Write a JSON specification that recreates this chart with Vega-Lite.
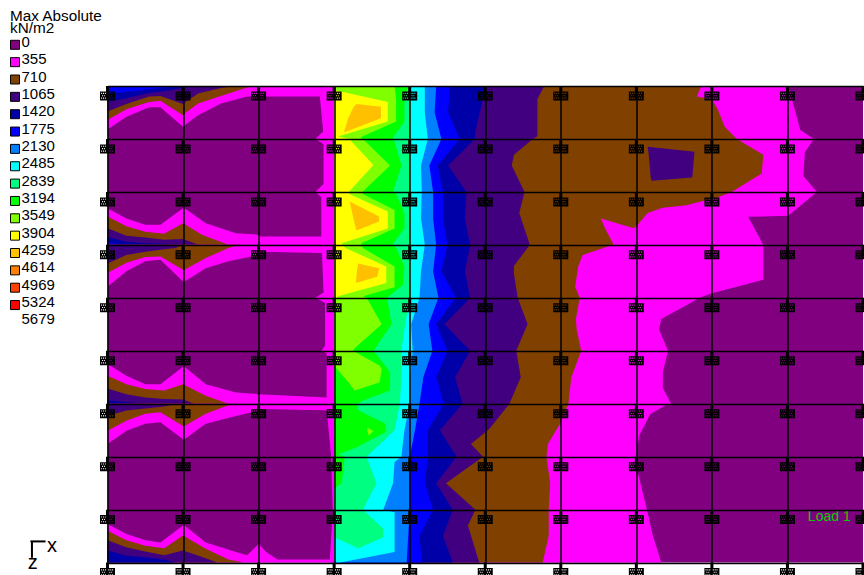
{"$schema":"https://vega.github.io/schema/vega-lite/v6.json","width":755.5,"height":476.6,"padding":{"left":107.5,"top":86,"right":1,"bottom":12.4},"autosize":{"type":"none"},"background":"white","view":{"stroke":null},
"config":{"font":"Liberation Sans"},
"layer":[
{"data":{"values":[
{"s":"base","l":"0","x":0,"x2":10,"y":0},{"s":"base","l":"0","x":0,"x2":10,"y":9},
{"s":"pkm","l":"355","x":3,"x2":9.01,"y":0},{"s":"pkm","l":"355","x":3,"x2":9.17,"y":0.83},{"s":"pkm","l":"355","x":3,"x2":9.35,"y":1},{"s":"pkm","l":"355","x":3,"x2":9.23,"y":1.25},{"s":"pkm","l":"355","x":3,"x2":9.21,"y":1.7},{"s":"pkm","l":"355","x":3,"x2":9.39,"y":2},{"s":"pkm","l":"355","x":3,"x2":9.01,"y":2.45},{"s":"pkm","l":"355","x":3,"x2":8.48,"y":2.47},{"s":"pkm","l":"355","x":3,"x2":8.68,"y":3},{"s":"pkm","l":"355","x":3,"x2":8.68,"y":3.66},{"s":"pkm","l":"355","x":3,"x2":7.99,"y":3.92},{"s":"pkm","l":"355","x":3,"x2":7.84,"y":4},{"s":"pkm","l":"355","x":3,"x2":7.33,"y":4.4},{"s":"pkm","l":"355","x":3,"x2":7.3,"y":4.6},{"s":"pkm","l":"355","x":3,"x2":7.42,"y":5},{"s":"pkm","l":"355","x":3,"x2":7.35,"y":5.4},{"s":"pkm","l":"355","x":3,"x2":7.35,"y":5.7},{"s":"pkm","l":"355","x":3,"x2":7.46,"y":6},{"s":"pkm","l":"355","x":3,"x2":7.4,"y":6.02},{"s":"pkm","l":"355","x":3,"x2":7.18,"y":6.2},{"s":"pkm","l":"355","x":3,"x2":7.04,"y":6.6},{"s":"pkm","l":"355","x":3,"x2":7,"y":6.95},{"s":"pkm","l":"355","x":3,"x2":7.02,"y":7.3},{"s":"pkm","l":"355","x":3,"x2":7.14,"y":8},{"s":"pkm","l":"355","x":3,"x2":7.22,"y":8.5},{"s":"pkm","l":"355","x":3,"x2":7.33,"y":9},
{"s":"pks","l":"355","x":2.81,"x2":3,"y":0},{"s":"pks","l":"355","x":2.81,"x2":3,"y":0.2},{"s":"pks","l":"355","x":2.855,"x2":3,"y":0.86},{"s":"pks","l":"355","x":2.75,"x2":3,"y":1},{"s":"pks","l":"355","x":2.86,"x2":3,"y":1.1},{"s":"pks","l":"355","x":2.86,"x2":3,"y":1.85},{"s":"pks","l":"355","x":2.75,"x2":3,"y":2},{"s":"pks","l":"355","x":2.83,"x2":3,"y":2.1},{"s":"pks","l":"355","x":2.83,"x2":3,"y":3},{"s":"pks","l":"355","x":2.84,"x2":3,"y":3.2},{"s":"pks","l":"355","x":2.86,"x2":3,"y":3.9},{"s":"pks","l":"355","x":2.75,"x2":3,"y":4},{"s":"pks","l":"355","x":2.88,"x2":3,"y":4.1},{"s":"pks","l":"355","x":2.88,"x2":3,"y":4.9},{"s":"pks","l":"355","x":2.83,"x2":3,"y":5},{"s":"pks","l":"355","x":2.9,"x2":3,"y":5.05},{"s":"pks","l":"355","x":2.9,"x2":3,"y":5.95},{"s":"pks","l":"355","x":2.82,"x2":3,"y":6},{"s":"pks","l":"355","x":2.9,"x2":3,"y":6.1},{"s":"pks","l":"355","x":2.96,"x2":3,"y":7},{"s":"pks","l":"355","x":2.98,"x2":3,"y":8},{"s":"pks","l":"355","x":2.97,"x2":3,"y":8.3},{"s":"pks","l":"355","x":2.94,"x2":3,"y":9},
{"s":"br","l":"710","x":3,"x2":7.86,"y":0},{"s":"br","l":"710","x":3,"x2":7.8,"y":0.2},{"s":"br","l":"710","x":3,"x2":8,"y":0.25},{"s":"br","l":"710","x":3,"x2":8.08,"y":0.45},{"s":"br","l":"710","x":3,"x2":8.17,"y":0.77},{"s":"br","l":"710","x":3,"x2":8.33,"y":1},{"s":"br","l":"710","x":3,"x2":8.68,"y":1.3},{"s":"br","l":"710","x":3,"x2":8.66,"y":1.65},{"s":"br","l":"710","x":3,"x2":8.26,"y":2},{"s":"br","l":"710","x":3,"x2":8.08,"y":2.1},{"s":"br","l":"710","x":3,"x2":7.66,"y":2.25},{"s":"br","l":"710","x":3,"x2":7.35,"y":2.3},{"s":"br","l":"710","x":3,"x2":7.15,"y":2.4},{"s":"br","l":"710","x":3,"x2":7,"y":2.65},{"s":"br","l":"710","x":3,"x2":6.69,"y":2.97},{"s":"br","l":"710","x":3,"x2":6.69,"y":3},{"s":"br","l":"710","x":3,"x2":6.29,"y":3.19},{"s":"br","l":"710","x":3,"x2":6.23,"y":3.41},{"s":"br","l":"710","x":3,"x2":6.19,"y":3.79},{"s":"br","l":"710","x":3,"x2":6.25,"y":4},{"s":"br","l":"710","x":3,"x2":6.2,"y":4.4},{"s":"br","l":"710","x":3,"x2":6.21,"y":4.6},{"s":"br","l":"710","x":3,"x2":6.27,"y":5},{"s":"br","l":"710","x":3,"x2":6.14,"y":5.5},{"s":"br","l":"710","x":3,"x2":6.1,"y":6},{"s":"br","l":"710","x":3,"x2":5.98,"y":6.4},{"s":"br","l":"710","x":3,"x2":5.83,"y":6.76},{"s":"br","l":"710","x":3,"x2":5.81,"y":7},{"s":"br","l":"710","x":3,"x2":5.86,"y":7.5},{"s":"br","l":"710","x":3,"x2":5.84,"y":8},{"s":"br","l":"710","x":3,"x2":5.84,"y":8.5},{"s":"br","l":"710","x":3,"x2":5.76,"y":9},
{"s":"tongue","l":"355","x":6.53,"x2":6.53,"y":2.5},{"s":"tongue","l":"355","x":6.59,"x2":7,"y":2.7},{"s":"tongue","l":"355","x":6.69,"x2":7,"y":2.97},
{"s":"patch","l":"1065","x":7.15,"x2":7.15,"y":1.145},{"s":"patch","l":"1065","x":7.16,"x2":7.77,"y":1.24},{"s":"patch","l":"1065","x":7.19,"x2":7.74,"y":1.73},{"s":"patch","l":"1065","x":7.2,"x2":7.2,"y":1.79},
{"s":"p","l":"1065","x":3,"x2":5.78,"y":0},{"s":"p","l":"1065","x":3,"x2":5.69,"y":0.25},{"s":"p","l":"1065","x":3,"x2":5.69,"y":0.95},{"s":"p","l":"1065","x":3,"x2":5.63,"y":1},{"s":"p","l":"1065","x":3,"x2":5.38,"y":1.3},{"s":"p","l":"1065","x":3,"x2":5.35,"y":1.5},{"s":"p","l":"1065","x":3,"x2":5.52,"y":2},{"s":"p","l":"1065","x":3,"x2":5.45,"y":2.4},{"s":"p","l":"1065","x":3,"x2":5.59,"y":3},{"s":"p","l":"1065","x":3,"x2":5.38,"y":3.4},{"s":"p","l":"1065","x":3,"x2":5.38,"y":3.55},{"s":"p","l":"1065","x":3,"x2":5.43,"y":4},{"s":"p","l":"1065","x":3,"x2":5.56,"y":4.5},{"s":"p","l":"1065","x":3,"x2":5.41,"y":5},{"s":"p","l":"1065","x":3,"x2":5.47,"y":5.5},{"s":"p","l":"1065","x":3,"x2":5.32,"y":6},{"s":"p","l":"1065","x":3,"x2":5.05,"y":6.48},{"s":"p","l":"1065","x":3,"x2":4.81,"y":6.76},{"s":"p","l":"1065","x":3,"x2":4.97,"y":7},{"s":"p","l":"1065","x":3,"x2":4.48,"y":7.5},{"s":"p","l":"1065","x":3,"x2":4.87,"y":8},{"s":"p","l":"1065","x":3,"x2":4.77,"y":8.3},{"s":"p","l":"1065","x":3,"x2":4.92,"y":9},
{"s":"n","l":"1420","x":3,"x2":5,"y":0},{"s":"n","l":"1420","x":3,"x2":4.96,"y":0.3},{"s":"n","l":"1420","x":3,"x2":4.87,"y":0.85},{"s":"n","l":"1420","x":3,"x2":4.86,"y":1},{"s":"n","l":"1420","x":3,"x2":4.51,"y":1.5},{"s":"n","l":"1420","x":3,"x2":4.75,"y":2},{"s":"n","l":"1420","x":3,"x2":4.73,"y":2.5},{"s":"n","l":"1420","x":3,"x2":4.8,"y":3},{"s":"n","l":"1420","x":3,"x2":4.73,"y":3.5},{"s":"n","l":"1420","x":3,"x2":4.8,"y":4},{"s":"n","l":"1420","x":3,"x2":4.46,"y":4.5},{"s":"n","l":"1420","x":3,"x2":4.8,"y":5},{"s":"n","l":"1420","x":3,"x2":4.6,"y":5.5},{"s":"n","l":"1420","x":3,"x2":4.7,"y":6},{"s":"n","l":"1420","x":3,"x2":4.4,"y":6.5},{"s":"n","l":"1420","x":3,"x2":4.62,"y":7},{"s":"n","l":"1420","x":3,"x2":4.35,"y":7.5},{"s":"n","l":"1420","x":3,"x2":4.57,"y":8},{"s":"n","l":"1420","x":3,"x2":4.44,"y":8.5},{"s":"n","l":"1420","x":3,"x2":4.57,"y":9},
{"s":"b","l":"1775","x":3,"x2":4.53,"y":0},{"s":"b","l":"1775","x":3,"x2":4.51,"y":0.5},{"s":"b","l":"1775","x":3,"x2":4.66,"y":1},{"s":"b","l":"1775","x":3,"x2":4.37,"y":1.5},{"s":"b","l":"1775","x":3,"x2":4.44,"y":2},{"s":"b","l":"1775","x":3,"x2":4.44,"y":2.5},{"s":"b","l":"1775","x":3,"x2":4.5,"y":3},{"s":"b","l":"1775","x":3,"x2":4.42,"y":3.5},{"s":"b","l":"1775","x":3,"x2":4.61,"y":4},{"s":"b","l":"1775","x":3,"x2":4.35,"y":4.5},{"s":"b","l":"1775","x":3,"x2":4.5,"y":5},{"s":"b","l":"1775","x":3,"x2":4.35,"y":5.5},{"s":"b","l":"1775","x":3,"x2":4.45,"y":6},{"s":"b","l":"1775","x":3,"x2":4.24,"y":6.5},{"s":"b","l":"1775","x":3,"x2":4.24,"y":7},{"s":"b","l":"1775","x":3,"x2":4.2,"y":7.5},{"s":"b","l":"1775","x":3,"x2":4.31,"y":8},{"s":"b","l":"1775","x":3,"x2":4.13,"y":8.5},{"s":"b","l":"1775","x":3,"x2":4.16,"y":9},
{"s":"d","l":"2130","x":3,"x2":4.35,"y":0},{"s":"d","l":"2130","x":3,"x2":4.33,"y":0.5},{"s":"d","l":"2130","x":3,"x2":4.42,"y":1},{"s":"d","l":"2130","x":3,"x2":4.26,"y":1.5},{"s":"d","l":"2130","x":3,"x2":4.31,"y":2},{"s":"d","l":"2130","x":3,"x2":4.31,"y":2.5},{"s":"d","l":"2130","x":3,"x2":4.35,"y":3},{"s":"d","l":"2130","x":3,"x2":4.31,"y":3.5},{"s":"d","l":"2130","x":3,"x2":4.38,"y":4},{"s":"d","l":"2130","x":3,"x2":4.25,"y":4.5},{"s":"d","l":"2130","x":3,"x2":4.3,"y":5},{"s":"d","l":"2130","x":3,"x2":4.18,"y":5.5},{"s":"d","l":"2130","x":3,"x2":4.13,"y":6},{"s":"d","l":"2130","x":3,"x2":4.07,"y":6.5},{"s":"d","l":"2130","x":3,"x2":4,"y":7},{"s":"d","l":"2130","x":3,"x2":4,"y":8},{"s":"d","l":"2130","x":3,"x2":3.98,"y":8.5},{"s":"d","l":"2130","x":3,"x2":3.96,"y":9},
{"s":"c","l":"2485","x":3,"x2":4.2,"y":0},{"s":"c","l":"2485","x":3,"x2":4.2,"y":0.5},{"s":"c","l":"2485","x":3,"x2":4.24,"y":1},{"s":"c","l":"2485","x":3,"x2":4.15,"y":1.5},{"s":"c","l":"2485","x":3,"x2":4.16,"y":2},{"s":"c","l":"2485","x":3,"x2":4.15,"y":2.5},{"s":"c","l":"2485","x":3,"x2":4.2,"y":3},{"s":"c","l":"2485","x":3,"x2":4.15,"y":3.5},{"s":"c","l":"2485","x":3,"x2":4.13,"y":4},{"s":"c","l":"2485","x":3,"x2":4.02,"y":4.5},{"s":"c","l":"2485","x":3,"x2":4.04,"y":5},{"s":"c","l":"2485","x":3,"x2":4,"y":5.5},{"s":"c","l":"2485","x":3,"x2":4,"y":6},{"s":"c","l":"2485","x":3,"x2":3.93,"y":6.5},{"s":"c","l":"2485","x":3,"x2":3.89,"y":7},{"s":"c","l":"2485","x":3,"x2":3.8,"y":7.1},{"s":"c","l":"2485","x":3,"x2":3.78,"y":7.5},{"s":"c","l":"2485","x":3,"x2":3.65,"y":8},{"s":"c","l":"2485","x":3,"x2":3.8,"y":8.05},{"s":"c","l":"2485","x":3,"x2":3.8,"y":8.8},{"s":"c","l":"2485","x":3,"x2":3.08,"y":9},
{"s":"m","l":"2839","x":3,"x2":4.02,"y":0},{"s":"m","l":"2839","x":3,"x2":4,"y":0.5},{"s":"m","l":"2839","x":3,"x2":4,"y":4},{"s":"m","l":"2839","x":3,"x2":3.94,"y":4.5},{"s":"m","l":"2839","x":3,"x2":3.89,"y":5},{"s":"m","l":"2839","x":3,"x2":3.89,"y":5.5},{"s":"m","l":"2839","x":3,"x2":3.87,"y":6},{"s":"m","l":"2839","x":3,"x2":3.8,"y":6.5},{"s":"m","l":"2839","x":3,"x2":3.43,"y":7},{"s":"m","l":"2839","x":3,"x2":3.56,"y":7.5},{"s":"m","l":"2839","x":3,"x2":3.38,"y":8},{"s":"m","l":"2839","x":3,"x2":3.65,"y":8.36},{"s":"m","l":"2839","x":3,"x2":3.65,"y":8.52},{"s":"m","l":"2839","x":3.32,"x2":3.32,"y":8.73},
{"s":"g","l":"3194","x":3,"x2":3.98,"y":0},{"s":"g","l":"3194","x":3,"x2":3.93,"y":0.25},{"s":"g","l":"3194","x":3,"x2":3.93,"y":0.67},{"s":"g","l":"3194","x":3,"x2":3.78,"y":0.97},{"s":"g","l":"3194","x":3,"x2":3.89,"y":1.5},{"s":"g","l":"3194","x":3,"x2":3.78,"y":1.99},{"s":"g","l":"3194","x":3,"x2":3.82,"y":2.04},{"s":"g","l":"3194","x":3,"x2":3.93,"y":2.4},{"s":"g","l":"3194","x":3,"x2":3.93,"y":2.69},{"s":"g","l":"3194","x":3,"x2":3.78,"y":2.97},{"s":"g","l":"3194","x":3,"x2":3.82,"y":3.06},{"s":"g","l":"3194","x":3,"x2":3.93,"y":3.41},{"s":"g","l":"3194","x":3,"x2":3.91,"y":3.76},{"s":"g","l":"3194","x":3,"x2":3.7,"y":4},{"s":"g","l":"3194","x":3,"x2":3.76,"y":4.5},{"s":"g","l":"3194","x":3,"x2":3.52,"y":5},{"s":"g","l":"3194","x":3,"x2":3.74,"y":5.4},{"s":"g","l":"3194","x":3,"x2":3.74,"y":5.75},{"s":"g","l":"3194","x":3,"x2":3.45,"y":5.9},{"s":"g","l":"3194","x":3,"x2":3.3,"y":6},{"s":"g","l":"3194","x":3,"x2":3.32,"y":6.13},{"s":"g","l":"3194","x":3,"x2":3.68,"y":6.38},{"s":"g","l":"3194","x":3,"x2":3.68,"y":6.54},{"s":"g","l":"3194","x":3,"x2":3.3,"y":6.82},{"s":"g","l":"3194","x":3,"x2":3.05,"y":6.96},{"s":"g","l":"3194","x":3,"x2":3.14,"y":7},{"s":"g","l":"3194","x":3,"x2":3.1,"y":7.5},{"s":"g","l":"3194","x":3,"x2":3,"y":7.6},
{"s":"lg","l":"3549","x":3,"x2":3.8,"y":0},{"s":"lg","l":"3549","x":3,"x2":3.82,"y":0.25},{"s":"lg","l":"3549","x":3,"x2":3.82,"y":0.67},{"s":"lg","l":"3549","x":3,"x2":3.35,"y":0.97},{"s":"lg","l":"3549","x":3,"x2":3.38,"y":1},{"s":"lg","l":"3549","x":3,"x2":3.74,"y":1.5},{"s":"lg","l":"3549","x":3,"x2":3.38,"y":1.99},{"s":"lg","l":"3549","x":3,"x2":3.38,"y":2.04},{"s":"lg","l":"3549","x":3,"x2":3.8,"y":2.34},{"s":"lg","l":"3549","x":3,"x2":3.8,"y":2.69},{"s":"lg","l":"3549","x":3,"x2":3.36,"y":2.97},{"s":"lg","l":"3549","x":3,"x2":3.38,"y":3.06},{"s":"lg","l":"3549","x":3,"x2":3.8,"y":3.41},{"s":"lg","l":"3549","x":3,"x2":3.8,"y":3.8},{"s":"lg","l":"3549","x":3,"x2":3.38,"y":3.97},{"s":"lg","l":"3549","x":3,"x2":3.43,"y":4},{"s":"lg","l":"3549","x":3,"x2":3.63,"y":4.5},{"s":"lg","l":"3549","x":3,"x2":3.27,"y":4.95},{"s":"lg","l":"3549","x":3,"x2":3.25,"y":5},{"s":"lg","l":"3549","x":3,"x2":3.6,"y":5.28},{"s":"lg","l":"3549","x":3.04,"x2":3.63,"y":5.35},{"s":"lg","l":"3549","x":3.19,"x2":3.6,"y":5.6},{"s":"lg","l":"3549","x":3.27,"x2":3.27,"y":5.75},
{"s":"spot","l":"3549","x":3.44,"x2":3.44,"y":6.45},{"s":"spot","l":"3549","x":3.44,"x2":3.52,"y":6.52},{"s":"spot","l":"3549","x":3.46,"x2":3.46,"y":6.6},
{"s":"y","l":"3904","x":3,"x2":3,"y":0},{"s":"y","l":"3904","x":3,"x2":3,"y":0.075},{"s":"y","l":"3904","x":3,"x2":3.71,"y":0.3},{"s":"y","l":"3904","x":3,"x2":3.71,"y":0.67},{"s":"y","l":"3904","x":3,"x2":3.05,"y":0.955},{"s":"y","l":"3904","x":3,"x2":3.2,"y":1},{"s":"y","l":"3904","x":3,"x2":3.52,"y":1.49},{"s":"y","l":"3904","x":3,"x2":3.2,"y":1.99},{"s":"y","l":"3904","x":3,"x2":3.2,"y":2.04},{"s":"y","l":"3904","x":3,"x2":3.71,"y":2.37},{"s":"y","l":"3904","x":3,"x2":3.71,"y":2.69},{"s":"y","l":"3904","x":3,"x2":3.1,"y":2.97},{"s":"y","l":"3904","x":3,"x2":3.15,"y":3.06},{"s":"y","l":"3904","x":3,"x2":3.69,"y":3.41},{"s":"y","l":"3904","x":3,"x2":3.69,"y":3.72},{"s":"y","l":"3904","x":3,"x2":3.05,"y":3.97},{"s":"y","l":"3904","x":3,"x2":3,"y":4.04},
{"s":"o1","l":"4259","x":3.295,"x2":3.295,"y":0.34},{"s":"o1","l":"4259","x":3.26,"x2":3.62,"y":0.39},{"s":"o1","l":"4259","x":3.185,"x2":3.62,"y":0.61},{"s":"o1","l":"4259","x":3.13,"x2":3.13,"y":0.88},
{"s":"o2","l":"4259","x":3.205,"x2":3.205,"y":2.18},{"s":"o2","l":"4259","x":3.25,"x2":3.595,"y":2.465},{"s":"o2","l":"4259","x":3.265,"x2":3.595,"y":2.56},{"s":"o2","l":"4259","x":3.295,"x2":3.295,"y":2.73},
{"s":"o3","l":"4259","x":3.317,"x2":3.317,"y":3.35},{"s":"o3","l":"4259","x":3.305,"x2":3.595,"y":3.44},{"s":"o3","l":"4259","x":3.295,"x2":3.57,"y":3.6},{"s":"o3","l":"4259","x":3.286,"x2":3.286,"y":3.72}
]},
"mark":{"type":"area","orient":"horizontal"},
"encoding":{
"x":{"field":"x","type":"quantitative","scale":{"domain":[0,10]},"axis":{"values":[0,1,2,3,4,5,6,7,8,9],"title":null,"labels":false,"ticks":false,"domain":false,"grid":true,"gridColor":"#000","gridWidth":1.5,"gridOpacity":1,"zindex":1}},
"x2":{"field":"x2"},
"y":{"field":"y","type":"quantitative","scale":{"domain":[0,9],"reverse":true},"axis":{"values":[0,1,2,3,4,5,6,7,8,9],"title":null,"labels":false,"ticks":false,"domain":false,"grid":true,"gridColor":"#000","gridWidth":1.5,"gridOpacity":1,"zindex":1}},
"detail":{"field":"s"},
"color":{"field":"l","type":"nominal","scale":{"domain":["0","355","710","1065","1420","1775","2130","2485","2839","3194","3549","3904","4259","4614","4969","5324","5679"],"range":["#800080","#ff00ff","#804000","#400080","#0000a8","#0000ff","#0080ff","#00ffff","#00ff80","#00ff00","#80ff00","#ffff00","#ffc000","#ff8000","#ff4000","#ff0000","#ffffff"]},
"legend":{"orient":"none","legendX":-100,"legendY":-77,"title":["Max Absolute","kN/m2"],"titleFontSize":15.3,"titleFontWeight":"normal","titleLineHeight":12,"titleColor":"#000","titleFont":"Liberation Sans","titlePadding":1,"labelFontSize":15,"labelColor":"#000","labelFont":"Liberation Sans","labelOffset":-1,"labelBaseline":"middle","symbolType":"square","symbolSize":81,"symbolStrokeColor":"#000","symbolStrokeWidth":1,"symbolOpacity":1,"rowPadding":0.35,"values":["0","355","710","1065","1420","1775","2130","2485","2839","3194","3549","3904","4259","4614","4969","5324","5679"],"encode":{"title":{"update":{"dx":{"value":2.5}}},"labels":{"update":{"dy":{"value":-3}}},"symbols":{"update":{"stroke":[{"test":"datum.value==='5679'","value":"transparent"},{"value":"#000"}]}}}}}
}},
{"data":{"values":[
{"s":"a1","l":"355","x":0,"y":0.82,"y2":0},{"s":"a1","l":"355","x":0.25,"y":0.58,"y2":0},{"s":"a1","l":"355","x":0.55,"y":0.4,"y2":0},{"s":"a1","l":"355","x":0.7,"y":0.4,"y2":0},{"s":"a1","l":"355","x":1,"y":0.77,"y2":0},{"s":"a1","l":"355","x":1.02,"y":0.74,"y2":0},{"s":"a1","l":"355","x":1.2,"y":0.55,"y2":0},{"s":"a1","l":"355","x":1.5,"y":0.33,"y2":0},{"s":"a1","l":"355","x":1.85,"y":0.2,"y2":0},{"s":"a1","l":"355","x":2,"y":0.2,"y2":0},{"s":"a1","l":"355","x":3,"y":0.2,"y2":0},
{"s":"a2","l":"710","x":0,"y":0.64,"y2":0},{"s":"a2","l":"710","x":0.25,"y":0.44,"y2":0},{"s":"a2","l":"710","x":0.55,"y":0.3,"y2":0},{"s":"a2","l":"710","x":0.7,"y":0.28,"y2":0},{"s":"a2","l":"710","x":1,"y":0.55,"y2":0},{"s":"a2","l":"710","x":1.02,"y":0.52,"y2":0},{"s":"a2","l":"710","x":1.2,"y":0.33,"y2":0},{"s":"a2","l":"710","x":1.5,"y":0.19,"y2":0},{"s":"a2","l":"710","x":1.85,"y":0.03,"y2":0},{"s":"a2","l":"710","x":1.95,"y":0,"y2":0},
{"s":"a3","l":"1065","x":0,"y":0.48,"y2":0},{"s":"a3","l":"1065","x":0.25,"y":0.34,"y2":0},{"s":"a3","l":"1065","x":0.55,"y":0.2,"y2":0},{"s":"a3","l":"1065","x":0.7,"y":0.19,"y2":0},{"s":"a3","l":"1065","x":1,"y":0.34,"y2":0},{"s":"a3","l":"1065","x":1.02,"y":0.31,"y2":0},{"s":"a3","l":"1065","x":1.2,"y":0.14,"y2":0},{"s":"a3","l":"1065","x":1.5,"y":0.04,"y2":0},{"s":"a3","l":"1065","x":1.7,"y":0,"y2":0},
{"s":"a4","l":"1420","x":0,"y":0.3,"y2":0},{"s":"a4","l":"1420","x":0.25,"y":0.23,"y2":0},{"s":"a4","l":"1420","x":0.55,"y":0.13,"y2":0},{"s":"a4","l":"1420","x":0.7,"y":0.11,"y2":0},{"s":"a4","l":"1420","x":1,"y":0.04,"y2":0},{"s":"a4","l":"1420","x":1.02,"y":0.03,"y2":0},{"s":"a4","l":"1420","x":1.2,"y":0,"y2":0},
{"s":"a5","l":"1775","x":0,"y":0.14,"y2":0},{"s":"a5","l":"1775","x":0.25,"y":0.11,"y2":0},{"s":"a5","l":"1775","x":0.55,"y":0.06,"y2":0},{"s":"a5","l":"1775","x":0.7,"y":0.04,"y2":0},{"s":"a5","l":"1775","x":1,"y":0,"y2":0},
{"s":"b1","l":"355","x":0,"y":2.31,"y2":3},{"s":"b1","l":"355","x":0.25,"y":2.5,"y2":3},{"s":"b1","l":"355","x":0.5,"y":2.62,"y2":3},{"s":"b1","l":"355","x":0.7,"y":2.62,"y2":3},{"s":"b1","l":"355","x":1,"y":2.31,"y2":3},{"s":"b1","l":"355","x":1.02,"y":2.31,"y2":3},{"s":"b1","l":"355","x":1.3,"y":2.59,"y2":3},{"s":"b1","l":"355","x":1.7,"y":2.78,"y2":3},{"s":"b1","l":"355","x":2,"y":2.81,"y2":3},{"s":"b1","l":"355","x":2.02,"y":2.84,"y2":3},{"s":"b1","l":"355","x":3,"y":2.84,"y2":3},
{"s":"b2","l":"710","x":0,"y":2.465,"y2":3},{"s":"b2","l":"710","x":0.25,"y":2.65,"y2":3},{"s":"b2","l":"710","x":0.5,"y":2.75,"y2":3},{"s":"b2","l":"710","x":0.75,"y":2.79,"y2":3},{"s":"b2","l":"710","x":1,"y":2.59,"y2":3},{"s":"b2","l":"710","x":1.25,"y":2.81,"y2":3},{"s":"b2","l":"710","x":1.6,"y":3,"y2":3},
{"s":"b3","l":"1065","x":0,"y":2.685,"y2":3},{"s":"b3","l":"1065","x":0.25,"y":2.83,"y2":3},{"s":"b3","l":"1065","x":0.5,"y":2.86,"y2":3},{"s":"b3","l":"1065","x":0.75,"y":2.905,"y2":3},{"s":"b3","l":"1065","x":1,"y":2.89,"y2":3},{"s":"b3","l":"1065","x":1.15,"y":2.97,"y2":3},{"s":"b3","l":"1065","x":1.2,"y":3,"y2":3},
{"s":"b4","l":"1420","x":0,"y":2.85,"y2":3},{"s":"b4","l":"1420","x":0.25,"y":2.94,"y2":3},{"s":"b4","l":"1420","x":0.5,"y":2.97,"y2":3},{"s":"b4","l":"1420","x":0.75,"y":2.98,"y2":3},{"s":"b4","l":"1420","x":1,"y":3,"y2":3},
{"s":"b5","l":"1775","x":0,"y":2.96,"y2":3},{"s":"b5","l":"1775","x":0.2,"y":3,"y2":3},
{"s":"c1","l":"355","x":0,"y":3.79,"y2":3},{"s":"c1","l":"355","x":0.25,"y":3.5,"y2":3},{"s":"c1","l":"355","x":0.5,"y":3.31,"y2":3},{"s":"c1","l":"355","x":0.7,"y":3.28,"y2":3},{"s":"c1","l":"355","x":1,"y":3.69,"y2":3},{"s":"c1","l":"355","x":1.02,"y":3.69,"y2":3},{"s":"c1","l":"355","x":1.3,"y":3.44,"y2":3},{"s":"c1","l":"355","x":1.6,"y":3.31,"y2":3},{"s":"c1","l":"355","x":2,"y":3.19,"y2":3},{"s":"c1","l":"355","x":2.02,"y":3.13,"y2":3},{"s":"c1","l":"355","x":3,"y":3.16,"y2":3},
{"s":"c2","l":"710","x":0,"y":3.53,"y2":3},{"s":"c2","l":"710","x":0.25,"y":3.34,"y2":3},{"s":"c2","l":"710","x":0.5,"y":3.23,"y2":3},{"s":"c2","l":"710","x":0.7,"y":3.22,"y2":3},{"s":"c2","l":"710","x":1,"y":3.47,"y2":3},{"s":"c2","l":"710","x":1.02,"y":3.47,"y2":3},{"s":"c2","l":"710","x":1.3,"y":3.25,"y2":3},{"s":"c2","l":"710","x":1.6,"y":3.06,"y2":3},{"s":"c2","l":"710","x":1.75,"y":3,"y2":3},
{"s":"c3","l":"1065","x":0,"y":3.35,"y2":3},{"s":"c3","l":"1065","x":0.25,"y":3.19,"y2":3},{"s":"c3","l":"1065","x":0.5,"y":3.13,"y2":3},{"s":"c3","l":"1065","x":0.7,"y":3.09,"y2":3},{"s":"c3","l":"1065","x":0.9,"y":3.06,"y2":3},{"s":"c3","l":"1065","x":1,"y":3,"y2":3},
{"s":"d1","l":"355","x":0,"y":5.25,"y2":6},{"s":"d1","l":"355","x":0.25,"y":5.47,"y2":6},{"s":"d1","l":"355","x":0.5,"y":5.63,"y2":6},{"s":"d1","l":"355","x":0.7,"y":5.63,"y2":6},{"s":"d1","l":"355","x":1,"y":5.3,"y2":6},{"s":"d1","l":"355","x":1.02,"y":5.3,"y2":6},{"s":"d1","l":"355","x":1.3,"y":5.63,"y2":6},{"s":"d1","l":"355","x":1.7,"y":5.79,"y2":6},{"s":"d1","l":"355","x":2,"y":5.82,"y2":6},{"s":"d1","l":"355","x":2.9,"y":5.88,"y2":6},{"s":"d1","l":"355","x":3,"y":5.88,"y2":6},
{"s":"d2","l":"710","x":0,"y":5.47,"y2":6},{"s":"d2","l":"710","x":0.25,"y":5.63,"y2":6},{"s":"d2","l":"710","x":0.5,"y":5.72,"y2":6},{"s":"d2","l":"710","x":0.75,"y":5.75,"y2":6},{"s":"d2","l":"710","x":1,"y":5.63,"y2":6},{"s":"d2","l":"710","x":1.3,"y":5.85,"y2":6},{"s":"d2","l":"710","x":1.6,"y":6,"y2":6},
{"s":"d3","l":"1065","x":0,"y":5.71,"y2":6},{"s":"d3","l":"1065","x":0.25,"y":5.82,"y2":6},{"s":"d3","l":"1065","x":0.5,"y":5.88,"y2":6},{"s":"d3","l":"1065","x":0.75,"y":5.91,"y2":6},{"s":"d3","l":"1065","x":1,"y":5.92,"y2":6},{"s":"d3","l":"1065","x":1.15,"y":6,"y2":6},
{"s":"d4","l":"1420","x":0,"y":5.94,"y2":6},{"s":"d4","l":"1420","x":0.5,"y":6,"y2":6},
{"s":"e1","l":"355","x":0,"y":6.76,"y2":6},{"s":"e1","l":"355","x":0.25,"y":6.51,"y2":6},{"s":"e1","l":"355","x":0.5,"y":6.38,"y2":6},{"s":"e1","l":"355","x":0.7,"y":6.35,"y2":6},{"s":"e1","l":"355","x":1,"y":6.67,"y2":6},{"s":"e1","l":"355","x":1.02,"y":6.67,"y2":6},{"s":"e1","l":"355","x":1.3,"y":6.38,"y2":6},{"s":"e1","l":"355","x":1.7,"y":6.23,"y2":6},{"s":"e1","l":"355","x":2,"y":6.13,"y2":6},{"s":"e1","l":"355","x":2.03,"y":6.1,"y2":6},{"s":"e1","l":"355","x":3,"y":6.13,"y2":6},
{"s":"e2","l":"710","x":0,"y":6.51,"y2":6},{"s":"e2","l":"710","x":0.25,"y":6.32,"y2":6},{"s":"e2","l":"710","x":0.5,"y":6.19,"y2":6},{"s":"e2","l":"710","x":0.7,"y":6.16,"y2":6},{"s":"e2","l":"710","x":1,"y":6.42,"y2":6},{"s":"e2","l":"710","x":1.02,"y":6.42,"y2":6},{"s":"e2","l":"710","x":1.3,"y":6.19,"y2":6},{"s":"e2","l":"710","x":1.6,"y":6.03,"y2":6},{"s":"e2","l":"710","x":1.7,"y":6,"y2":6},
{"s":"e3","l":"1065","x":0,"y":6.23,"y2":6},{"s":"e3","l":"1065","x":0.25,"y":6.13,"y2":6},{"s":"e3","l":"1065","x":0.5,"y":6.09,"y2":6},{"s":"e3","l":"1065","x":0.75,"y":6.05,"y2":6},{"s":"e3","l":"1065","x":0.9,"y":6.01,"y2":6},{"s":"e3","l":"1065","x":1,"y":6,"y2":6},
{"s":"f1","l":"355","x":0,"y":8.27,"y2":9},{"s":"f1","l":"355","x":0.25,"y":8.46,"y2":9},{"s":"f1","l":"355","x":0.5,"y":8.58,"y2":9},{"s":"f1","l":"355","x":0.7,"y":8.62,"y2":9},{"s":"f1","l":"355","x":1,"y":8.3,"y2":9},{"s":"f1","l":"355","x":1.02,"y":8.3,"y2":9},{"s":"f1","l":"355","x":1.3,"y":8.62,"y2":9},{"s":"f1","l":"355","x":1.7,"y":8.8,"y2":9},{"s":"f1","l":"355","x":1.85,"y":8.86,"y2":9},{"s":"f1","l":"355","x":2,"y":8.65,"y2":9},{"s":"f1","l":"355","x":2.1,"y":8.8,"y2":9},{"s":"f1","l":"355","x":2.25,"y":8.94,"y2":9},{"s":"f1","l":"355","x":3,"y":8.94,"y2":9},
{"s":"f2","l":"710","x":0,"y":8.4,"y2":9},{"s":"f2","l":"710","x":0.25,"y":8.58,"y2":9},{"s":"f2","l":"710","x":0.5,"y":8.68,"y2":9},{"s":"f2","l":"710","x":0.75,"y":8.73,"y2":9},{"s":"f2","l":"710","x":1,"y":8.49,"y2":9},{"s":"f2","l":"710","x":1.3,"y":8.74,"y2":9},{"s":"f2","l":"710","x":1.6,"y":8.94,"y2":9},{"s":"f2","l":"710","x":1.8,"y":9,"y2":9},
{"s":"f3","l":"1065","x":0,"y":8.58,"y2":9},{"s":"f3","l":"1065","x":0.25,"y":8.71,"y2":9},{"s":"f3","l":"1065","x":0.5,"y":8.79,"y2":9},{"s":"f3","l":"1065","x":0.75,"y":8.86,"y2":9},{"s":"f3","l":"1065","x":1,"y":8.77,"y2":9},{"s":"f3","l":"1065","x":1.3,"y":8.92,"y2":9},{"s":"f3","l":"1065","x":1.45,"y":9,"y2":9},
{"s":"f4","l":"1420","x":0,"y":8.77,"y2":9},{"s":"f4","l":"1420","x":0.25,"y":8.87,"y2":9},{"s":"f4","l":"1420","x":0.5,"y":8.9,"y2":9},{"s":"f4","l":"1420","x":0.75,"y":8.94,"y2":9},{"s":"f4","l":"1420","x":0.9,"y":9,"y2":9}
]},
"mark":{"type":"area","orient":"vertical"},
"encoding":{
"x":{"field":"x","type":"quantitative","title":null},
"y":{"field":"y","type":"quantitative","title":null},
"y2":{"field":"y2"},
"detail":{"field":"s"},
"color":{"field":"l","type":"nominal"}
}},
{"data":{"values":[
{"c":0,"r":0},{"c":1,"r":0},{"c":2,"r":0},{"c":3,"r":0},{"c":4,"r":0},{"c":5,"r":0},{"c":6,"r":0},{"c":7,"r":0},{"c":8,"r":0},{"c":9,"r":0},{"c":10,"r":0},
{"c":0,"r":1},{"c":1,"r":1},{"c":2,"r":1},{"c":3,"r":1},{"c":4,"r":1},{"c":5,"r":1},{"c":6,"r":1},{"c":7,"r":1},{"c":8,"r":1},{"c":9,"r":1},{"c":10,"r":1},
{"c":0,"r":2},{"c":1,"r":2},{"c":2,"r":2},{"c":3,"r":2},{"c":4,"r":2},{"c":5,"r":2},{"c":6,"r":2},{"c":7,"r":2},{"c":8,"r":2},{"c":9,"r":2},{"c":10,"r":2},
{"c":0,"r":3},{"c":1,"r":3},{"c":2,"r":3},{"c":3,"r":3},{"c":4,"r":3},{"c":5,"r":3},{"c":6,"r":3},{"c":7,"r":3},{"c":8,"r":3},{"c":9,"r":3},{"c":10,"r":3},
{"c":0,"r":4},{"c":1,"r":4},{"c":2,"r":4},{"c":3,"r":4},{"c":4,"r":4},{"c":5,"r":4},{"c":6,"r":4},{"c":7,"r":4},{"c":8,"r":4},{"c":9,"r":4},{"c":10,"r":4},
{"c":0,"r":5},{"c":1,"r":5},{"c":2,"r":5},{"c":3,"r":5},{"c":4,"r":5},{"c":5,"r":5},{"c":6,"r":5},{"c":7,"r":5},{"c":8,"r":5},{"c":9,"r":5},{"c":10,"r":5},
{"c":0,"r":6},{"c":1,"r":6},{"c":2,"r":6},{"c":3,"r":6},{"c":4,"r":6},{"c":5,"r":6},{"c":6,"r":6},{"c":7,"r":6},{"c":8,"r":6},{"c":9,"r":6},{"c":10,"r":6},
{"c":0,"r":7},{"c":1,"r":7},{"c":2,"r":7},{"c":3,"r":7},{"c":4,"r":7},{"c":5,"r":7},{"c":6,"r":7},{"c":7,"r":7},{"c":8,"r":7},{"c":9,"r":7},{"c":10,"r":7},
{"c":0,"r":8},{"c":1,"r":8},{"c":2,"r":8},{"c":3,"r":8},{"c":4,"r":8},{"c":5,"r":8},{"c":6,"r":8},{"c":7,"r":8},{"c":8,"r":8},{"c":9,"r":8},{"c":10,"r":8},
{"c":0,"r":9},{"c":1,"r":9},{"c":2,"r":9},{"c":3,"r":9},{"c":4,"r":9},{"c":5,"r":9},{"c":6,"r":9},{"c":7,"r":9},{"c":8,"r":9},{"c":9,"r":9},{"c":10,"r":9}
]},
"mark":{"type":"point","filled":true,"opacity":1,"color":"#000","size":225,"shape":"M-.2 0H.2V.73H-.2ZM-1 .73H1V1.93H-1ZM-.85 .9V1.05H-.72V.9ZM-.6 .9V1.05H-.47V.9ZM-.35 .9V1.05H-.22V.9ZM.12 .9V1.05H.25V.9ZM.37 .9V1.05H.5V.9ZM.62 .9V1.05H.75V.9ZM-.73 1.22V1.37H-.6V1.22ZM-.48 1.22V1.37H-.35V1.22ZM.24 1.22V1.37H.37V1.22ZM.49 1.22V1.37H.62V1.22ZM-.85 1.54V1.69H-.72V1.54ZM-.6 1.54V1.69H-.47V1.54ZM-.35 1.54V1.69H-.22V1.54ZM.12 1.54V1.69H.25V1.54ZM.37 1.54V1.69H.5V1.54ZM.62 1.54V1.69H.75V1.54Z"},
"encoding":{"x":{"field":"c","type":"quantitative","title":null},"y":{"field":"r","type":"quantitative","title":null}}},
{"data":{"values":[{"t":"Load 1","x":9.27,"y":8.14}]},
"mark":{"type":"text","align":"left","baseline":"middle","fontSize":14,"color":"#00d000","font":"Liberation Sans"},
"encoding":{"x":{"field":"x","type":"quantitative","title":null},"y":{"field":"y","type":"quantitative","title":null},"text":{"field":"t"}}},
{"data":{"values":[{"t":"x","x":-0.735,"y":8.69},{"t":"z","x":-0.99,"y":9.01}]},
"mark":{"type":"text","align":"center","baseline":"middle","fontSize":20,"color":"#000","font":"Liberation Sans"},
"encoding":{"x":{"field":"x","type":"quantitative","title":null},"y":{"field":"y","type":"quantitative","title":null},"text":{"field":"t"}}},
{"data":{"values":[{"x":-1,"y":8.59,"y2":8.91}]},
"mark":{"type":"rule","color":"#000","strokeWidth":2},
"encoding":{"x":{"field":"x","type":"quantitative","title":null},"y":{"field":"y","type":"quantitative","title":null},"y2":{"field":"y2"}}},
{"data":{"values":[{"x":-1.02,"x2":-0.82,"y":8.6}]},
"mark":{"type":"rule","color":"#000","strokeWidth":2},
"encoding":{"x":{"field":"x","type":"quantitative","title":null},"x2":{"field":"x2"},"y":{"field":"y","type":"quantitative","title":null}}}
]}
